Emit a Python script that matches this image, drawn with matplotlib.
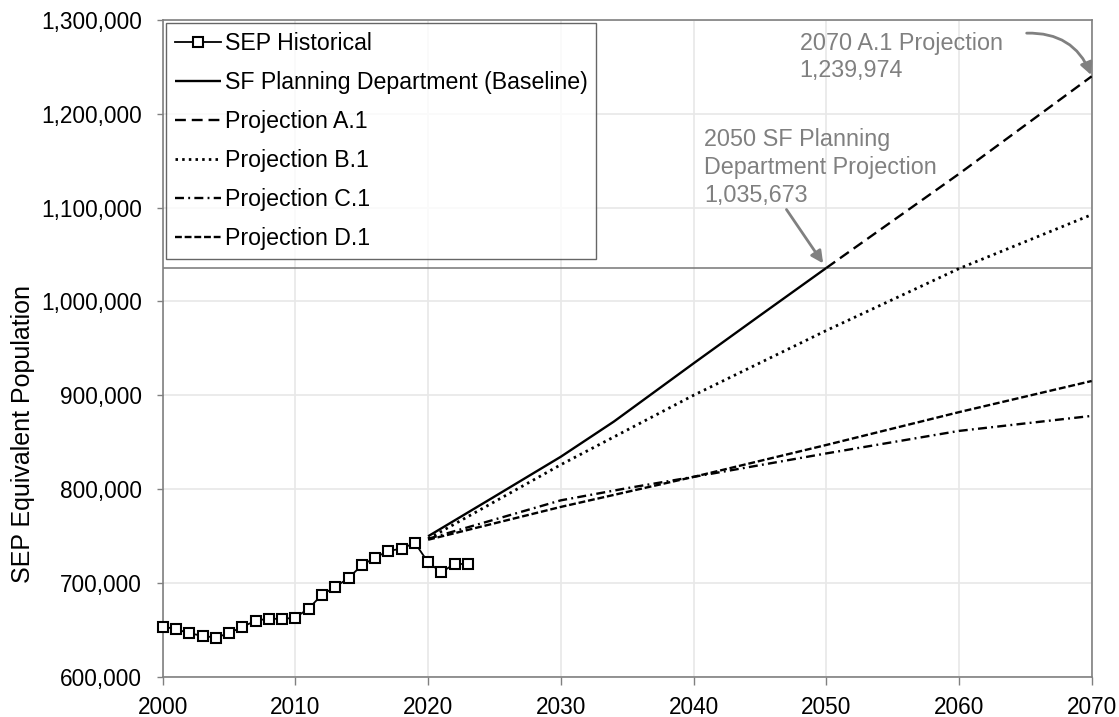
import matplotlib
matplotlib.use("Agg")
import matplotlib.pyplot as plt
from matplotlib.ticker import FuncFormatter

plt.rcParams['font.family'] = ['Liberation Sans', 'DejaVu Sans']

# historical SEP equivalent population
hist_years = list(range(2000, 2024))
hist_pop = [653500, 650700, 646400, 643500, 641700, 646400, 653200, 659600,
            662000, 661400, 663100, 672700, 687400, 695600, 705200, 718700,
            727000, 734000, 736500, 742700, 721900, 711200, 720500, 719800]

# SF Planning Department baseline (to 2050)
base_years = [2020, 2025, 2030, 2034, 2040, 2045, 2050]
base_pop = [749700, 792000, 834500, 872000, 934000, 985000, 1035673]

# projection A.1 follows baseline, then continues to 2070
a1_years = [2050, 2060, 2070]
a1_pop = [1035673, 1136000, 1239974]

b1_years = [2020, 2030, 2040, 2050, 2060, 2070]
b1_pop = [747000, 826000, 900000, 969000, 1035000, 1092500]

c1_years = [2020, 2030, 2035, 2040, 2050, 2060, 2070]
c1_pop = [747000, 788000, 801000, 813000, 838000, 862000, 878000]

d1_years = [2020, 2030, 2040, 2050, 2060, 2070]
d1_pop = [746000, 781000, 813000, 847000, 882000, 915200]

ref_2050 = 1035673
ref_2070 = 1239974

grey = '#808080'

fig = plt.figure(figsize=(11.19, 7.17), dpi=100)
ax = fig.add_axes([0.1454, 0.0562, 0.8302, 0.9159])

ax.axhline(ref_2050, color=grey, lw=1.2, zorder=2)

ax.plot(hist_years, hist_pop, color='black', lw=1.3, marker='s', ms=6.5,
        mfc='white', mec='black', mew=1.5, clip_on=False, zorder=5,
        label='SEP Historical')
ax.plot(base_years, base_pop, color='black', lw=1.7, solid_capstyle='butt',
        label='SF Planning Department (Baseline)', zorder=4)
ax.plot(a1_years, a1_pop, color='black', lw=1.7, ls=(0, (4.6, 2.5)),
        label='Projection A.1', zorder=4)
ax.plot(b1_years, b1_pop, color='black', lw=2.0, ls=(0, (0.9, 1.5)),
        label='Projection B.1', zorder=4)
ax.plot(c1_years, c1_pop, color='black', lw=1.7, ls=(0, (3.8, 1.8, 0.8, 1.8)),
        label='Projection C.1', zorder=4)
ax.plot(d1_years, d1_pop, color='black', lw=1.7, ls=(0, (2.9, 1.2)),
        label='Projection D.1', zorder=4)

ax.set_xlim(2000, 2070)
ax.set_ylim(600000, 1300000)
ax.set_xticks(range(2000, 2071, 10))
ax.set_yticks(range(600000, 1300001, 100000))
ax.yaxis.set_major_formatter(FuncFormatter(lambda v, p: f'{int(v):,}'))
ax.grid(True, color='#e8e8e8', lw=1.2, zorder=0)
ax.set_axisbelow(True)
for s in ax.spines.values():
    s.set_color(grey)
    s.set_linewidth(1.2)
ax.tick_params(axis='both', labelsize=16.3, colors=grey, labelcolor='black',
               direction='out', width=1)
ax.tick_params(axis='x', length=6, pad=8)
ax.tick_params(axis='y', length=4, pad=11)
ax.set_ylabel('SEP Equivalent Population', fontsize=18)
ax.yaxis.set_label_coords(-0.1375, 0.37)

leg = ax.legend(loc='upper left', fontsize=16.7, frameon=True, fancybox=False,
                edgecolor='#404040', handlelength=2.0, handletextpad=0.15,
                borderaxespad=0.15, labelspacing=0.69, borderpad=0.38)
leg.get_frame().set_linewidth(1.0)

ax.text(2040.8, 1100500, '2050 SF Planning\nDepartment Projection\n1,035,673',
        fontsize=16.8, color=grey, ha='left', va='bottom', linespacing=1.27)
ax.annotate('', xy=(2050, ref_2050), xytext=(2047.0, 1098000),
            arrowprops=dict(arrowstyle='-|>', color=grey, lw=2,
                            mutation_scale=18, shrinkA=0, shrinkB=4),
            zorder=6)
ax.text(2048.0, 1260500, '2070 A.1 Projection\n1,239,974', fontsize=16.8,
        color=grey, ha='left', va='center', linespacing=1.27)
ax.annotate('', xy=(2070, ref_2070), xytext=(2065.1, 1286000),
            arrowprops=dict(arrowstyle='-|>', color=grey, lw=2,
                            mutation_scale=18, shrinkA=0, shrinkB=1,
                            connectionstyle='arc3,rad=-0.35'),
            annotation_clip=False, zorder=6)

fig.savefig('out.png', dpi=100)
